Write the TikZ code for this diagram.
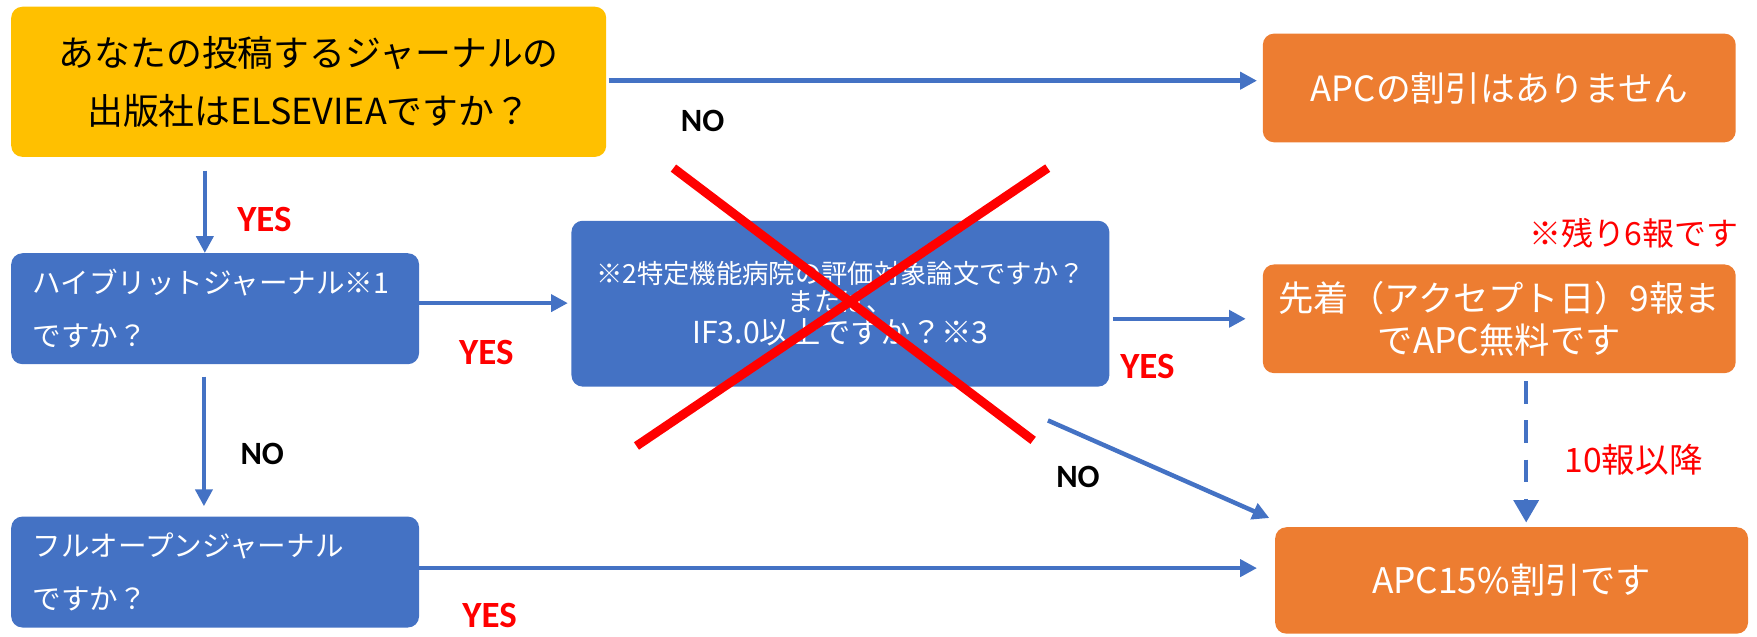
\documentclass[tikz,border=0pt]{standalone}
\usepackage{fontspec}
\setmainfont{Noto Sans CJK JP}
\newfontfamily\labfont{Carlito}
\usetikzlibrary{arrows.meta}
\definecolor{qyellow}{HTML}{FFC000}
\definecolor{qorange}{HTML}{ED7D31}
\definecolor{qblue}{HTML}{4472C4}
\definecolor{qred}{HTML}{FF0000}
\begin{document}
\begin{tikzpicture}[x=1pt,y=-1pt,
  box/.style={rounded corners=10pt, inner sep=0pt, text=white},
  ybox/.style={box, fill=qyellow, text=black, align=center},
  obox/.style={box, fill=qorange, align=center},
  bbox/.style={box, fill=qblue},
  arr/.style={draw=qblue, line width=4pt, -{Triangle[length=15pt,width=15pt]}},
  darr/.style={arr, dash pattern=on 20pt off 15pt, -{Triangle[length=20pt,width=22pt]}},
  yeslab/.style={text=qred, font=\labfont\bfseries\fontsize{33}{36}\selectfont},
  nolab/.style={text=black, font=\labfont\bfseries\fontsize{29}{32}\selectfont},
  redlab/.style={text=qred},
  cross/.style={draw=qred, line width=8pt}
]
\useasboundingbox (0,0) rectangle (1568,568.4);

% boxes
\node[ybox, minimum width=531pt, minimum height=134pt, font=\fontsize{32}{52}\selectfont] (q1) at (275.5,73)
  {あなたの投稿するジャーナルの\\出版社はELSEVIEAですか？};
\node[obox, minimum width=422pt, minimum height=97pt, font=\fontsize{31}{36}\selectfont] (none) at (1338,78.5)
  {APCの割引はありません};
\node[bbox, minimum width=364pt, minimum height=99pt, text width=326pt, align=left, font=\fontsize{25.5}{47}\selectfont] (hybrid) at (192,275.5)
  {ハイブリットジャーナル※1\\ですか？};
\node[bbox, minimum width=480pt, minimum height=148pt, align=center, font=\fontsize{23.5}{25}\selectfont] (middle) at (750,271)
  {※2特定機能病院の評価対象論文ですか？\\または、\\[3pt]
   {\fontsize{27}{30}\selectfont IF3.0以上ですか？※3}};
\node[obox, minimum width=422pt, minimum height=97pt, font=\fontsize{31.5}{38}\selectfont] (free) at (1338,284.5)
  {先着（アクセプト日）9報ま\\でAPC無料です};
\node[bbox, minimum width=364pt, minimum height=99pt, text width=326pt, align=left, font=\fontsize{25.5}{47}\selectfont] (full) at (192,510.5)
  {フルオープンジャーナル\\ですか？};
\node[obox, minimum width=422pt, minimum height=95pt, font=\fontsize{31.5}{36}\selectfont] (disc) at (1349,518)
  {APC15\%割引です};

% connectors
\draw[arr, shorten <=2pt, shorten >=5pt] ([yshift=1pt]q1.east) -- ([yshift=1pt]q1.east -| none.west);
\draw[arr] ([shift={(173,12)}]q1.south west) -- ([shift={(173,0)}]hybrid.north west);
\draw[arr, shorten >=3pt] ([yshift=5pt]hybrid.east) -- ([yshift=5pt]hybrid.east -| middle.west);
\draw[arr, shorten <=3pt, shorten >=15pt] (middle.east |- free.west) -- (free.west);
\coordinate (dtop) at ([shift={(24,7)}]free.south);
\coordinate (dbot) at (dtop |- disc.north);
\draw[darr, shorten >=4pt] (dtop) -- (dbot);
\coordinate (nstart) at ([shift={(-55,30)}]middle.south east);
\draw[arr] (nstart) -- ([shift={(-5,-8)}]disc.north west);
\draw[arr] ([shift={(-10,11)}]hybrid.south) -- ([shift={(-10,-9)}]full.north);
\draw[arr, shorten >=16pt] ([yshift=3.5pt]full.east) -- ([yshift=3.5pt]full.east -| disc.west);

% labels
\node[nolab] (lno1) at (627,108) {NO};
\node[yeslab] (lyes1) at (236,196) {YES};
\node[yeslab] (lyes2) at (434,315) {YES};
\node[yeslab] (lyes3) at (1024,327) {YES};
\node[nolab] (lno2) at (234,405) {NO};
\node[nolab] (lno3) at (962,426) {NO};
\node[yeslab] (lyes4) at (437,549) {YES};
\node[redlab, anchor=east, font=\fontsize{28.5}{32}\selectfont] (rem) at (1555,208) {※残り6報です};
\node[redlab, font=\fontsize{30}{32}\selectfont] (after) at (1458,410) {10報以降};

% red cross over the middle question
\draw[cross] (601,150) -- (922,393);
\draw[cross] (935,150) -- (568,398);
\end{tikzpicture}
\end{document}
